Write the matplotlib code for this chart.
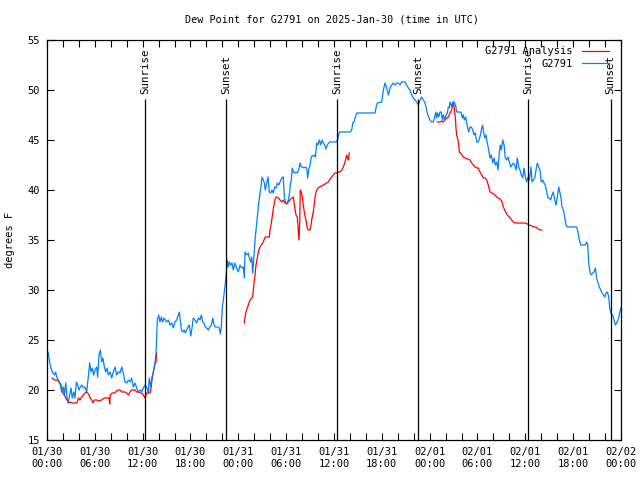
import numpy as np
import pandas as pd
import matplotlib
matplotlib.use("Agg")
import matplotlib.pyplot as plt
import matplotlib.dates as mdates

plt.rcParams['font.family'] = ['DejaVu Sans Mono']

start = pd.Timestamp("2025-01-30 00:00")

# station obs: hours after start, dew point (F)
obs_hours = [0.0, 0.16, 0.34, 0.50, 0.66, 0.92, 1.09, 1.22, 1.42, 1.63, 1.84, 2.04, 2.17, 2.35, 2.51, 2.67,
             2.85, 3.01, 3.17, 3.35, 3.51, 3.68, 3.85, 4.01, 4.18, 4.35, 4.55, 4.77, 4.98, 5.18, 5.36, 5.52,
             5.68, 5.86, 6.02, 6.23, 6.36, 6.52, 6.69, 6.86, 7.02, 7.19, 7.36, 7.53, 7.69, 7.90, 8.12, 8.32,
             8.53, 8.74, 8.94, 9.16, 9.37, 9.57, 9.78, 10.00, 10.20, 10.41, 10.62, 10.83, 11.04, 11.25, 11.45,
             11.67, 11.88, 12.08, 12.29, 12.51, 12.71, 12.83, 13.01, 13.17, 13.33, 13.55, 13.67, 13.76, 13.84,
             14.01, 14.17, 14.34, 14.51, 14.68, 14.84, 15.02, 15.22, 15.43, 15.64, 15.84, 16.06, 16.27, 16.47,
             16.60, 16.72, 16.85, 17.02, 17.19, 17.35, 17.52, 17.69, 17.85, 18.03, 18.19, 18.35, 18.56, 18.78,
             18.98, 19.19, 19.36, 19.53, 19.69, 19.86, 20.03, 20.23, 20.45, 20.61, 20.79, 20.95, 21.11, 21.45,
             21.61, 21.74, 21.86, 21.99, 22.12, 22.24, 22.37, 22.49, 22.62, 22.74, 22.87, 23.04, 23.21, 23.37,
             23.58, 23.80, 24.00, 24.21, 24.42, 24.62, 24.75, 24.84, 25.05, 25.25, 25.38, 25.55, 25.68, 25.80,
             25.97, 26.09, 26.22, 26.38, 26.56, 26.72, 26.84, 26.97, 27.13, 27.26, 27.38, 27.56, 27.72, 27.89,
             28.06, 28.22, 28.39, 28.56, 28.73, 28.89, 29.07, 29.23, 29.44, 29.64, 29.77, 29.94, 30.11, 30.27,
             30.39, 30.52, 30.64, 30.77, 30.90, 31.07, 31.23, 31.40, 31.57, 31.74, 31.90, 32.08, 32.24, 32.40,
             32.58, 32.70, 32.83, 32.99, 33.15, 33.49, 33.66, 33.83, 33.99, 34.16, 34.33, 34.50, 34.66, 34.83,
             35.00, 35.16, 35.34, 35.50, 36.34, 36.53, 36.67, 38.01, 38.22, 38.35, 38.51, 38.67, 38.85, 41.14,
             41.27, 41.43, 41.99, 42.19, 42.40, 42.61, 42.81, 43.03, 43.24, 43.44, 43.65, 43.87, 44.07, 44.28,
             44.49, 44.91, 45.12, 45.32, 45.53, 45.75, 45.95, 46.16, 46.38, 46.57, 46.79, 47.00, 47.20, 47.38,
             47.54, 47.70, 47.88, 48.04, 48.26, 48.46, 48.63, 48.76, 48.88, 49.01, 49.13, 49.30, 49.46, 49.59,
             49.71, 49.89, 50.05, 50.21, 50.34, 50.47, 50.55, 50.77, 50.89, 51.09, 51.30, 51.39, 51.81, 51.97,
             52.10, 52.22, 52.35, 52.52, 52.65, 52.77, 52.90, 53.06, 53.22, 53.40, 53.56, 53.73, 53.90, 54.10,
             54.31, 54.53, 54.65, 54.78, 54.90, 55.07, 55.23, 55.41, 55.57, 55.73, 55.91, 56.07, 56.23, 56.41,
             56.57, 56.74, 56.86, 56.99, 57.16, 57.33, 57.49, 57.67, 57.83, 57.99, 58.17, 58.33, 58.49, 58.67,
             58.83, 58.99, 59.17, 59.33, 59.50, 59.67, 59.83, 60.00, 60.17, 60.34, 60.50, 60.59, 60.71, 60.84,
             61.00, 61.18, 61.34, 61.50, 61.68, 61.84, 62.00, 62.18, 62.34, 62.50, 62.68, 62.84, 63.01, 63.18,
             63.35, 63.51, 63.69, 63.85, 64.01, 64.19, 64.35, 64.48, 64.60, 64.77, 64.94, 65.10, 65.27, 66.44,
             66.61, 66.77, 66.95, 67.52, 67.70, 67.83, 67.95, 68.11, 68.28, 68.45, 68.62, 68.78, 68.95, 69.12,
             69.28, 69.46, 69.62, 69.79, 69.96, 70.13, 70.29, 70.46, 70.59, 70.71, 70.96, 71.13, 71.29, 71.46,
             71.63, 71.79, 71.97]
obs_dewpt = [24.0, 23.7, 22.7, 22.2, 21.8, 21.5, 21.8, 21.3, 21.0, 20.7, 19.8, 20.3, 19.5, 20.7, 19.2, 18.8,
             19.5, 20.2, 19.2, 19.8, 19.2, 20.8, 20.5, 20.0, 20.3, 20.5, 20.2, 20.3, 19.8, 21.3, 22.7, 21.8,
             22.2, 21.5, 22.0, 22.3, 21.3, 23.5, 24.0, 22.8, 23.2, 22.3, 21.8, 22.2, 21.5, 21.8, 21.2, 21.8,
             22.3, 21.5, 21.8, 21.7, 22.3, 21.7, 20.8, 20.7, 21.0, 20.8, 21.2, 20.3, 20.7, 20.2, 19.8,
             20.0, 19.8, 20.2, 20.5, 20.3, 19.7, 21.2, 20.3, 21.3, 21.7, 22.7, 23.7, 25.3, 27.0,
             27.5, 26.8, 27.3, 26.8, 27.2, 27.0, 26.8, 27.0, 26.5, 26.7, 26.2, 26.8, 27.0, 27.5,
             27.8, 27.0, 26.0, 25.8, 26.0, 25.7, 26.0, 26.3, 26.5, 25.4, 26.2, 27.2, 27.0, 26.7,
             27.2, 27.0, 27.5, 26.8, 26.7, 26.3, 26.2, 26.0, 26.3, 26.5, 27.2, 26.5, 26.3, 26.3,
             26.2, 25.6, 26.2, 28.3, 29.0, 29.8, 30.7, 31.7, 33.0, 32.3, 32.8, 32.5, 32.7, 32.0,
             32.7, 32.2, 31.8, 32.5, 32.2, 32.3, 31.2, 33.8, 33.5, 33.7, 33.2, 32.8, 33.3, 31.7,
             33.5, 35.0, 36.0, 37.3, 38.7, 39.7, 40.3, 41.3, 41.0, 40.7, 40.0, 40.7, 41.3, 39.8,
             39.7, 40.0, 39.7, 40.3, 40.2, 40.7, 40.5, 40.8, 41.2, 41.3, 39.3, 38.7, 38.7, 39.0,
             39.5, 40.5, 41.0, 42.2, 41.8, 41.7, 41.8, 41.7, 42.0, 42.7, 42.3, 42.3, 42.2, 42.3,
             42.2, 41.2, 42.0, 42.5, 43.3, 43.5, 43.3, 44.7, 44.5, 45.0, 44.5, 45.0, 44.7, 44.5,
             44.1, 44.5, 44.7, 44.8, 44.8, 45.3, 45.8, 45.8, 46.0, 46.7, 46.8, 47.3, 47.7, 47.7,
             48.2, 48.7, 48.8, 50.0, 50.7, 50.2, 49.5, 50.2, 50.5, 50.7, 50.5, 50.7, 50.7, 50.5,
             50.8, 50.8, 50.5, 50.2, 50.0, 49.5, 49.2, 49.0, 48.8, 48.5, 49.0, 49.3, 49.0, 48.8,
             48.3, 47.7, 47.3, 47.0, 46.8, 46.8, 47.3, 47.8, 47.2, 47.7, 47.3, 47.8, 47.8, 47.0,
             47.5, 47.0, 47.5, 47.7, 48.3, 48.2, 48.8, 48.3, 48.8, 48.8, 48.3, 47.8, 47.8, 47.7,
             47.2, 47.5, 47.0, 47.3, 46.7, 46.2, 45.8, 46.3, 46.3, 46.0, 45.5, 45.7, 44.8, 44.8,
             45.3, 46.2, 46.5, 45.7, 45.2, 45.5, 44.7, 44.0, 43.2, 43.5, 42.7, 43.2, 42.5, 42.8,
             42.0, 43.8, 44.5, 44.0, 45.0, 44.5, 43.2, 43.0, 43.3, 42.8, 42.3, 42.5, 42.7, 42.5,
             42.0, 43.2, 42.3, 42.0, 41.5, 41.2, 42.2, 41.3, 40.8, 41.3, 41.0, 41.5, 42.3, 40.8,
             41.0, 41.2, 42.0, 42.7, 42.3, 42.0, 40.8, 41.0, 40.7, 40.5, 39.8, 39.2, 39.2, 39.0,
             39.5, 39.8, 39.0, 38.5, 39.3, 40.3, 39.7, 39.2, 38.3, 38.0, 37.3, 36.5, 36.3, 36.3,
             35.8, 35.0, 34.5, 34.5, 34.8, 34.5, 32.7, 31.8, 31.5, 31.7, 31.8, 32.2, 31.2, 30.7,
             30.3, 30.0, 29.7, 29.5, 29.3, 29.7, 29.8, 29.3, 28.2, 27.7, 27.5, 27.0, 26.5, 26.7,
             27.0, 27.5, 28.2]

# analysis: three runs, gaps marked with nan
ana_hours = [0.66, 0.92, 1.22, 1.51, 1.76, 1.92, 2.17, 2.35, 2.51, 2.67, 2.92, 3.17, 3.51, 3.76, 3.93, 4.14,
             4.35, 4.55, 4.77, 4.93, 5.11, 5.27, 5.43, 5.61, 5.77, 5.93, 6.23, 6.52, 6.86, 7.19, 7.49, 7.78,
             7.87, 7.94, 8.19, 8.53, 8.74, 8.94, 9.16, 9.37, 9.78, 10.00, 10.20, 10.41, 10.62, 11.04, 11.25,
             11.45, 11.67, 11.88, 12.08, 12.29, 12.51, 12.71, 12.92, 13.05, 13.17, 13.33, 13.51, 13.67, 13.76,
             np.nan,
             24.75, 24.84, 24.96, 25.13, 25.25, 25.46, 25.68, 25.80, 25.88, 25.97, 26.09, 26.22, 26.38, 26.56,
             26.72, 26.88, 27.06, 27.22, 27.38, 27.89, 27.97, 28.14, 28.31, 28.47, 28.64, 28.81, 29.01, 29.23,
             29.44, 29.64, 29.85, 30.07, 30.27, 30.48, 30.70, 30.90, 31.07, 31.23, 31.40, 31.52, 31.61, 31.70,
             31.77, 31.90, 32.02, 32.15, 32.27, 32.40, 32.53, 32.65, 32.78, 32.99, 33.12, 33.24, 33.40, 33.58,
             33.74, 33.91, 34.16, 34.46, 34.66, 34.87, 35.09, 35.29, 35.50, 35.71, 35.91, 36.13, 36.34, 36.54,
             36.75, 36.97, 37.17, 37.38, 37.59, 37.79, 37.92,
             np.nan,
             48.96, 49.30, 49.51, 49.71, 49.92, 50.14, 50.34, 50.55, 50.77, 50.89, 50.97, 51.09, 51.22, 51.30,
             51.39, 51.55, 51.64, 51.72, 51.89, 52.06, 52.22, 52.43, 52.65, 52.85, 53.06, 53.27, 53.48, 53.69,
             53.90, 54.10, 54.31, 54.53, 54.73, 54.94, 55.16, 55.28, 55.41, 55.57, 55.78, 55.98, 56.20, 56.41,
             56.61, 56.82, 57.04, 57.24, 57.42, 57.58, 57.74, 57.99, 58.29, 58.49, 58.71, 59.33, 59.96, 60.25,
             60.50, 60.80, 61.09, 61.34, 61.63, 61.84, 62.05]
ana_dewpt = [21.2, 21.0, 21.0, 20.8, 20.5, 19.8, 19.5, 19.2, 19.0, 18.7, 18.8, 18.7, 18.7, 18.7, 19.2, 19.0,
             19.3, 19.5, 19.7, 19.8, 19.7, 19.5, 19.2, 19.0, 18.7, 19.0, 19.0, 18.9, 19.0, 19.2, 19.2, 19.2,
             18.6, 19.5, 19.7, 19.7, 19.9, 20.0, 20.0, 19.8, 19.8, 19.7, 19.5, 19.8, 20.0, 20.0, 19.8,
             19.8, 19.7, 19.7, 19.5, 19.2, 19.7, 19.7, 19.7, 20.2, 21.0, 21.8, 22.5, 22.8, 23.7,
             np.nan,
             26.7, 27.3, 27.8, 28.2, 28.5, 29.0, 29.2, 29.3, 30.0, 30.7, 31.5, 32.5, 33.2, 34.0,
             34.3, 34.5, 34.7, 35.0, 35.3, 35.3, 36.0, 36.7, 37.7, 38.5, 39.2, 39.3, 39.2, 39.0,
             38.8, 39.0, 38.7, 38.6, 38.8, 39.0, 39.2, 39.3, 38.3, 37.5, 37.3, 36.0, 35.0, 36.7,
             40.0, 39.8, 39.3, 38.5, 37.8, 37.3, 36.8, 36.2, 36.0, 36.0, 36.5, 37.2, 37.8, 39.0,
             39.8, 40.1, 40.3, 40.4, 40.5, 40.6, 40.7, 40.8, 41.1, 41.3, 41.5, 41.7, 41.7, 41.8,
             41.8, 42.0, 42.3, 42.8, 43.5, 43.0, 43.7,
             np.nan,
             46.8, 46.8, 46.9, 46.8, 47.0, 47.2, 47.3, 47.7, 48.0, 48.5, 48.7, 48.2, 47.2, 46.2,
             45.5, 45.0, 44.5, 43.8, 43.7, 43.5, 43.3, 43.2, 43.1, 43.1, 43.0, 42.7, 42.5, 42.3,
             42.2, 42.2, 41.8, 41.5, 41.2, 41.2, 41.0, 40.7, 40.3, 39.8, 39.7, 39.6, 39.5, 39.3,
             39.2, 39.1, 38.9, 38.3, 38.0, 37.7, 37.5, 37.3, 37.0, 36.8, 36.7, 36.7, 36.7, 36.6,
             36.5, 36.4, 36.3, 36.3, 36.1, 36.0, 36.0]

sun_hours = [12.29, 22.45, 36.41, 46.57, 60.37, 70.69]
sun_labels = ["Sunrise", "Sunset", "Sunrise", "Sunset", "Sunrise", "Sunset"]


def to_time(hours):
    return start + pd.to_timedelta(np.array(hours, dtype=float), unit="h")


fig = plt.figure(figsize=(6.4, 4.8), dpi=100)
ax = fig.add_axes([47 / 640, 40 / 480, 574 / 640, 400 / 480])

ax.plot(to_time(ana_hours), ana_dewpt, color="#ff0000", lw=0.9, label="G2791 Analysis")
ax.plot(to_time(obs_hours), obs_dewpt, color="#0080ff", lw=0.9, label="G2791")

for h, lab in zip(sun_hours, sun_labels):
    t = to_time([h])[0]
    ax.vlines(t, 15, 49.1, color="black", lw=0.9)
    ax.text(t, 49.6, lab, rotation=90, ha="center", va="bottom", fontsize=7.8)

ax.set_xlim(start, start + pd.Timedelta(hours=72))
ax.set_ylim(15, 55)
ax.set_yticks(np.arange(15, 56, 5))

ax.xaxis.set_major_locator(mdates.HourLocator(byhour=range(0, 24, 6)))
ax.xaxis.set_minor_locator(mdates.HourLocator(byhour=range(0, 24, 2)))
ax.xaxis.set_major_formatter(mdates.DateFormatter("%m/%d\n%H:%M"))

ax.tick_params(which="both", direction="in", top=True, right=True, labelsize=7.5, width=0.8)
ax.tick_params(which="major", length=5, pad=5)
ax.tick_params(which="minor", length=5)
for s in ax.spines.values():
    s.set_linewidth(0.9)

leg = ax.legend(loc="upper right", frameon=False, markerfirst=False, fontsize=7.5,
                handlelength=2.6, handletextpad=0.9, labelspacing=0.25,
                borderaxespad=0.2, bbox_to_anchor=(0.9895, 1.0))

fig.text(332 / 640, 1 - 19 / 480, "Dew Point for G2791 on 2025-Jan-30 (time in UTC)",
         ha="center", va="center", fontsize=7.3)
fig.text(10 / 640, 0.5, "degrees F", rotation=90, ha="center", va="center", fontsize=7.5)

fig.savefig("out.png", dpi=100)
